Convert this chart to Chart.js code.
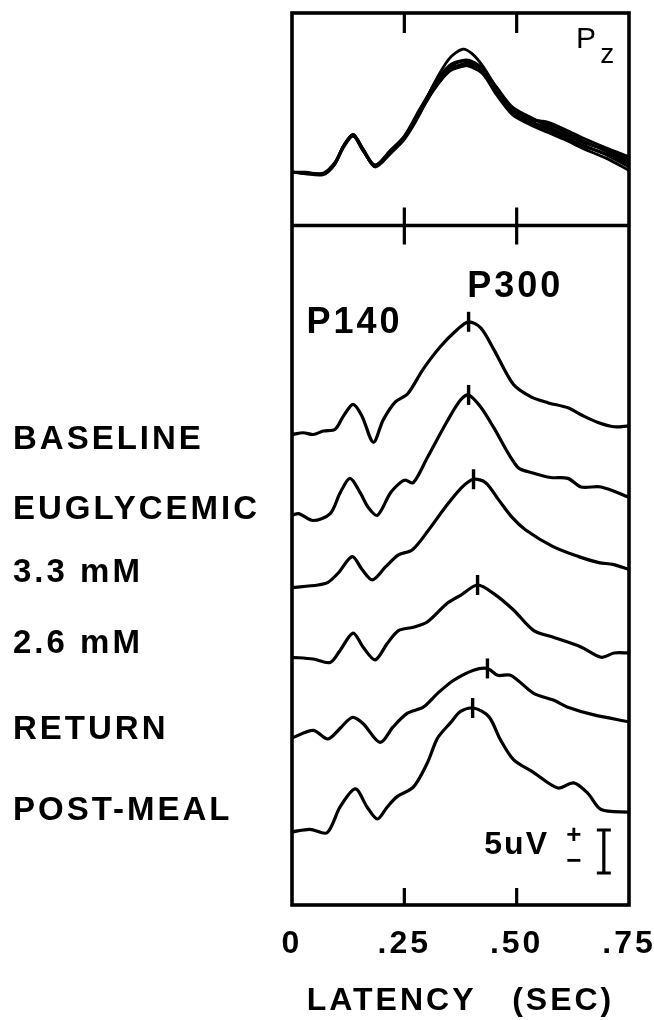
<!DOCTYPE html>
<html>
<head>
<meta charset="utf-8">
<script src="https://cdn.jsdelivr.net/npm/chart.js@4.4.1/dist/chart.umd.min.js"></script>
<style>
  html, body { margin: 0; padding: 0; background: #fff; }
  #wrap { width: 654px; height: 1020px; }
</style>
</head>
<body>
<div id="wrap"><canvas id="erp" width="654" height="1020"></canvas></div>
<script>
// ===== ERP traces, latency in sec, amplitude in uV above each trace's own baseline =====

const latencyTicks = [0, 0.25, 0.5, 0.75];
const latencyTickText = ['0', '.25', '.50', '.75'];
const conditions = ['BASELINE', 'EUGLYCEMIC', '3.3 mM', '2.6 mM', 'RETURN', 'POST-MEAL'];

const baselineTrace = [[0,0],[0.025,0.2],[0.047,0],[0.07,0.4],[0.096,0.6],[0.114,2.1],[0.136,3.5],[0.156,2.1],[0.181,-0.9],[0.203,1.7],[0.23,3.8],[0.257,4.7],[0.292,7.6],[0.33,10.2],[0.368,12.2],[0.393,13.1],[0.42,12.4],[0.449,9.9],[0.493,5.8],[0.531,4.4],[0.569,3.7],[0.614,3.1],[0.643,2.3],[0.681,1.4],[0.717,0.9],[0.75,1.0]];
const euglycemicTrace = [[0,0],[0.015,0.2],[0.047,-0.6],[0.085,0.2],[0.107,2.6],[0.129,4.3],[0.152,2.6],[0.17,0.9],[0.19,0],[0.219,2.6],[0.241,3.8],[0.252,4.1],[0.27,3.8],[0.301,6.7],[0.346,11.0],[0.375,13.4],[0.393,14.0],[0.42,12.6],[0.449,10.2],[0.502,5.6],[0.538,4.9],[0.576,4.4],[0.614,4.3],[0.643,3.3],[0.688,3.3],[0.75,2.1]];
const mm33Trace = [[0,0],[0.058,0.3],[0.08,0.6],[0.103,1.7],[0.134,3.6],[0.156,2.1],[0.179,0.9],[0.208,2.4],[0.237,3.8],[0.268,4.4],[0.304,6.7],[0.342,9.4],[0.379,11.7],[0.404,12.6],[0.431,12.2],[0.46,10.2],[0.491,8.1],[0.52,6.7],[0.58,4.8],[0.638,3.6],[0.683,2.9],[0.714,2.7],[0.75,2.1]];
const mm26Trace = [[0,0],[0.047,-0.2],[0.085,-0.6],[0.107,0.8],[0.136,2.8],[0.158,1.2],[0.185,-0.3],[0.212,1.6],[0.237,3.1],[0.27,3.5],[0.301,4.1],[0.346,6.3],[0.375,7.2],[0.413,8.4],[0.449,7.4],[0.493,5.5],[0.538,3.1],[0.583,2.3],[0.643,1.2],[0.688,0],[0.717,0.5],[0.75,0.5]];
const returnTrace = [[0,0],[0.047,0.9],[0.08,-0.1],[0.11,1.3],[0.134,2.4],[0.158,1.7],[0.196,-0.5],[0.225,1.3],[0.257,2.9],[0.292,3.6],[0.324,5.2],[0.359,6.7],[0.404,7.9],[0.435,8.1],[0.458,7.3],[0.487,7.3],[0.538,5.2],[0.583,4.4],[0.614,3.6],[0.672,2.7],[0.75,1.9]];
const postMealTrace = [[0,0],[0.04,0.3],[0.078,-0.1],[0.107,2.9],[0.141,5.0],[0.167,2.9],[0.19,1.5],[0.212,2.9],[0.234,4.1],[0.27,5.2],[0.301,8.0],[0.324,10.9],[0.353,12.7],[0.375,14.0],[0.404,14.4],[0.438,13.4],[0.464,10.7],[0.493,8.4],[0.538,6.9],[0.592,5.1],[0.627,5.7],[0.658,4.5],[0.688,2.6],[0.75,2.3]];
const stackedTraces = [baselineTrace, euglycemicTrace, mm33Trace, mm26Trace, returnTrace, postMealTrace];
const traceBaselines = [54.7, 45.3, 36.9, 28.8, 19.4, 8.5];

// P300 peak marks
const peakLatency = [0.393, 0.393, 0.404, 0.413, 0.435, 0.402];
const peakAmp = [13.1, 14.0, 12.6, 8.4, 8.1, 14.4];

// Pz overlay (upper panel), one shared latency grid
const pzLatency = [0, 0.03, 0.07, 0.095, 0.115, 0.136, 0.158, 0.185, 0.22, 0.25, 0.285, 0.315, 0.35, 0.38, 0.40, 0.425, 0.455, 0.49, 0.53, 0.57, 0.61, 0.65, 0.70, 0.75];
const pzA = [0,-0.1,-0.2,1.0,3.1,4.4,2.7,0.8,2.3,3.8,6.8,10.2,13.2,14.3,13.8,12.3,9.8,7.4,6.3,5.6,4.6,3.6,2.4,1.2];
const pzB = [0,-0.1,-0.1,1.1,3.0,4.3,2.5,0.7,2.5,4.1,7.2,10.0,12.2,12.9,12.8,11.8,9.4,7.0,6.1,5.8,4.9,3.9,2.8,1.8];
const pzC = [0,0,-0.2,0.9,2.9,4.2,2.6,0.6,2.2,3.9,7.0,9.6,11.8,12.6,12.6,11.7,9.3,6.9,5.7,4.9,3.9,3.0,2.1,0.9];
const pzD = [0,-0.1,-0.2,1.0,3.0,4.4,2.7,0.8,2.6,4.2,7.4,9.9,12.0,12.4,12.2,11.4,9.0,6.7,5.5,4.6,3.7,2.7,1.6,0.2];
const pzE = [0,-0.2,-0.3,0.9,3.1,4.3,2.6,0.7,2.4,4.0,6.9,9.5,11.7,12.3,12.4,11.9,9.9,7.6,6.4,5.3,4.3,3.4,2.6,1.5];
const pzF = [0,-0.1,-0.2,1.0,3.0,4.2,2.5,0.8,2.5,4.1,7.1,10.1,12.4,13.0,12.9,12.0,9.5,7.1,5.9,5.1,4.0,3.1,2.0,0.6];
const pzTraces = [pzA, pzB, pzC, pzD, pzE, pzF];
const pzBaseline = 85.2;

// calibration bar: 5 uV
const calibUv = 5;

const FONT = "'Liberation Sans', Arial, Helvetica, sans-serif";
const ink = '#000';

// layout helpers (latency / uV positions for annotations)
const yTop = 103.7;
const dividerLevel = 79.0;
const labelLevels = [54.1, 45.9, 38.6, 30.3, 20.3, 10.9];

const datasets = [];
pzTraces.forEach(vals => {
    datasets.push({
        data: vals.map((v, i) => ({ x: pzLatency[i], y: v + pzBaseline })),
        borderColor: ink, borderWidth: 2.8, tension: 0.3, pointRadius: 0, fill: false
    });
});
stackedTraces.forEach((tr, k) => {
    datasets.push({
        data: tr.map(([t, v]) => ({ x: t, y: v + traceBaselines[k] })),
        borderColor: ink, borderWidth: 3.2, tension: 0.3, pointRadius: 0, fill: false
    });
});
datasets.push({
    data: peakLatency.map((t, k) => ({ x: t, y: peakAmp[k] + traceBaselines[k] })),
    showLine: false, pointStyle: 'line', pointRotation: 90, pointRadius: 10,
    pointBorderWidth: 3.4, borderColor: ink, pointBorderColor: ink
});

const framePlugin = {
    id: 'erpFrame',
    beforeDraw(chart) { chart.ctx.letterSpacing = '3px'; },
    afterDatasetsDraw(chart) {
        const { ctx, chartArea: a, scales: { x, y } } = chart;
        ctx.save();
        ctx.letterSpacing = '3px';
        ctx.strokeStyle = ink; ctx.fillStyle = ink;
        ctx.lineWidth = 3.6;
        ctx.strokeRect(a.left, a.top, a.width, a.height);
        const yd = y.getPixelForValue(dividerLevel);
        ctx.beginPath(); ctx.moveTo(a.left, yd); ctx.lineTo(a.right, yd); ctx.stroke();
        // inner tick marks
        ctx.lineWidth = 3.2;
        latencyTicks.slice(1, -1).forEach(t => {
            const px = x.getPixelForValue(t);
            ctx.beginPath();
            ctx.moveTo(px, a.top); ctx.lineTo(px, a.top + 20);
            ctx.moveTo(px, yd - 18); ctx.lineTo(px, yd + 19);
            ctx.moveTo(px, a.bottom - 17); ctx.lineTo(px, a.bottom);
            ctx.stroke();
        });
        // condition labels
        ctx.font = `bold 33px ${FONT}`;
        ctx.textBaseline = 'middle'; ctx.textAlign = 'left';
        conditions.forEach((c, k) => ctx.fillText(c, 13, y.getPixelForValue(labelLevels[k])));
        // component labels
        ctx.font = `bold 36px ${FONT}`;
        ctx.fillText('P140', x.getPixelForValue(0.032), y.getPixelForValue(67.6));
        ctx.fillText('P300', x.getPixelForValue(0.39), y.getPixelForValue(71.8));
        // electrode label
        ctx.letterSpacing = '0px';
        ctx.font = `30px ${FONT}`;
        ctx.textBaseline = 'alphabetic';
        ctx.fillText('P', x.getPixelForValue(0.632), y.getPixelForValue(99.6));
        ctx.font = `28px ${FONT}`;
        ctx.fillText('z', x.getPixelForValue(0.686), y.getPixelForValue(97.9));
        // calibration
        ctx.letterSpacing = '2px';
        ctx.font = `bold 32px ${FONT}`;
        ctx.textBaseline = 'middle';
        ctx.fillText('5uV', x.getPixelForValue(0.428), y.getPixelForValue(7.0));
        ctx.letterSpacing = '0px';
        ctx.font = `bold 26px ${FONT}`;
        ctx.textAlign = 'center';
        ctx.fillText('+', x.getPixelForValue(0.627), y.getPixelForValue(8.0));
        ctx.fillText('\u2212', x.getPixelForValue(0.627), y.getPixelForValue(5.0));
        const bx = x.getPixelForValue(0.694);
        const b0 = y.getPixelForValue(3.72), b1 = y.getPixelForValue(3.72 + calibUv);
        ctx.lineWidth = 3.2;
        ctx.beginPath();
        ctx.moveTo(bx, b0); ctx.lineTo(bx, b1);
        ctx.moveTo(bx - 7, b0); ctx.lineTo(bx + 7, b0);
        ctx.moveTo(bx - 7, b1); ctx.lineTo(bx + 7, b1);
        ctx.stroke();
        ctx.restore();
    }
};

new Chart(document.getElementById('erp'), {
    type: 'line',
    data: { datasets },
    options: {
        responsive: false, animation: false, events: [],
        layout: { autoPadding: false, padding: { left: 292, right: 25, top: 13, bottom: 0 } },
        plugins: { legend: { display: false }, tooltip: { enabled: false } },
        scales: {
            x: {
                type: 'linear', min: 0, max: 0.75,
                afterBuildTicks: s => { s.ticks = latencyTicks.map(v => ({ value: v })); },
                afterFit: s => { s.height = 115; s.paddingLeft = 0; s.paddingRight = 0; },
                grid: { display: false }, border: { display: false },
                ticks: {
                    color: ink, padding: 12, maxRotation: 0, autoSkip: false,
                    font: { family: FONT, size: 32, weight: 'bold' },
                    callback: (v, i) => latencyTickText[i]
                },
                title: {
                    display: true, text: 'LATENCY   (SEC)', color: ink,
                    font: { family: FONT, size: 32, weight: 'bold' }, padding: { top: 2, bottom: 0 }
                }
            },
            y: { type: 'linear', min: 0, max: yTop, display: false }
        }
    },
    plugins: [framePlugin]
});
</script>
</body>
</html>
